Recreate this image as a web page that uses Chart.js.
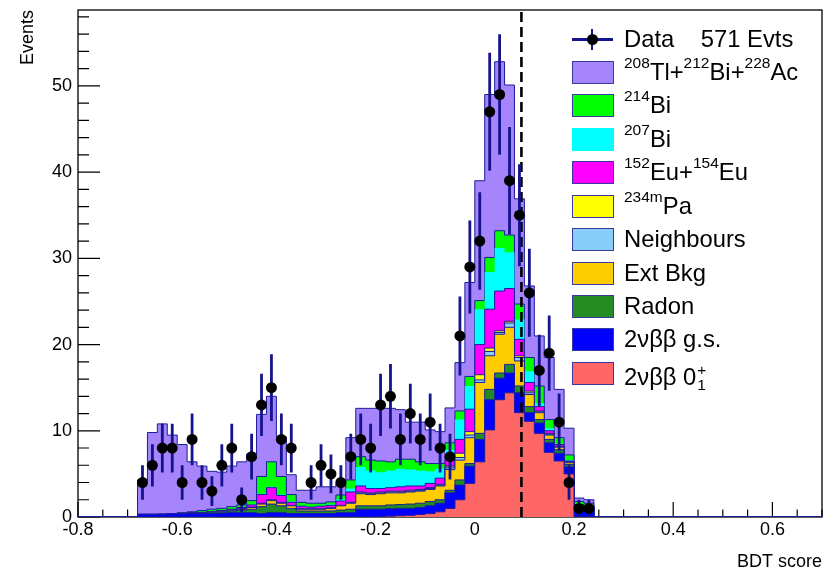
<!DOCTYPE html>
<html>
<head>
<meta charset="utf-8">
<script src="https://cdn.jsdelivr.net/npm/chart.js@4/dist/chart.umd.min.js"></script>
<style>
  html, body { margin: 0; padding: 0; background: #fff; }
  #wrap { position: relative; width: 824px; height: 569px; overflow: hidden; }
  #chart { position: absolute; left: 0; top: 0; }
  #legend { position: absolute; left: 0; top: 0; width: 824px; height: 569px; pointer-events: none;
            font-family: "Liberation Sans", Arial, sans-serif; font-size: 23.8px; line-height: 23.8px; color: #000; }
  .lab { position: absolute; left: 624px; white-space: pre; }
  .lab sup { font-size: 15.5px; line-height: 0; vertical-align: 12.5px; }
  .box { position: absolute; left: 572px; width: 39.5px; height: 21px; border: 1.5px solid #3a3a9e; }
  .ss { position: relative; display: inline-block; width: 10px; height: 24px; }
  .ss span { position: absolute; left: 1px; font-size: 15.5px; line-height: 15.5px; }
  .mk { position: absolute; background: #14148c; }
</style>
</head>
<body>
<div id="wrap">
  <canvas id="chart" width="824" height="569"></canvas>
  <div id="legend"></div>
</div>
<script>
// Binning and axis ranges
const BIN_WIDTH = 0.02;
const X_MIN = -0.8, X_MAX = 0.7;
const Y_MAX = 58.8;
const FIRST_BIN_LOW = -0.68;   // lower edge of the first filled bin
const BDT_CUT = 0.094;         // selection cut on the BDT score
const xMajorTicks = [-0.8, -0.6, -0.4, -0.2, 0, 0.2, 0.4, 0.6];
const yMajorTicks = [0, 10, 20, 30, 40, 50];

// Observed events per bin (bins of 0.02 starting at -0.68)
const dataCounts = [4,6,8,8,4,9,4,3,6,8, 2,7,13,15,9,8,0,4,6,5, 4,7,9,8,13,14,9,12,9,11,
                    8,7,21,29,32,47,49,39,35,26, 17,19,11,4,1,1];

// Expected contributions per bin, same binning
const bb2nu01 = [0,0,0,0,0,0,0,0,0,0, 0,0,0,0,0,0,0,0,0,0, 0,0,0,0,0.05,0.1,0.15,0.2,0.3,0.4,
                 0.6,1.0,2.0,3.9,6.4,10.1,13.6,14.4,12.1,11.1, 9.7,7.5,6.5,5.0,0,0];
const bb2nuGs = [0.3,0.3,0.3,0.35,0.35,0.4,0.4,0.4,0.45,0.5, 0.5,0.5,0.4,0.5,0.5,0.4,0.4,0.4,0.4,0.4,
                 0.5,0.5,0.9,0.9,0.85,0.85,0.85,0.8,0.8,0.9, 1.0,1.8,1.7,2.0,2.6,3.5,2.5,2.3,2.3,1.0,
                 1.2,1.1,0.9,0.8,1.0,0.9];
const radon = [0,0,0,0,0.05,0.05,0.1,0.15,0.15,0.2, 0.3,0.4,0.8,1.0,0.8,0.6,0.3,0.3,0.3,0.3,
               0.3,0.4,0.4,0.4,0.4,0.45,0.45,0.5,0.5,0.5, 0.4,0.3,0.6,0.3,0.7,1.2,0.6,1.0,0.8,0.7,
               0.4,0.4,0.4,0.3,0.2,0.2];
const extBkg = [0,0,0,0,0,0,0,0.05,0.1,0.1, 0.1,0.2,0.3,0.4,0.3,0.3,0.2,0.2,0.2,0.3,
                0.5,0.7,1.4,1.3,1.4,1.4,1.35,1.4,1.4,1.4, 1.6,2.4,2.3,3.0,5.9,3.9,4.5,4.3,2.9,1.4,
                0.8,0.5,0.3,0.2,0.1,0.1];
const neighbours = [0,0,0,0,0,0,0,0,0,0, 0,0,0,0,0,0,0,0,0,0,
                    0,0.05,0.1,0.1,0.1,0.1,0.1,0.1,0.1,0.1, 0.1,0.2,0.3,0.3,0.3,0.5,0.2,0.5,0.4,0.2,
                    0.1,0.1,0.05,0.05,0,0];
const pa234m = [0,0,0,0,0,0,0,0,0,0, 0.05,0.05,0.1,0.1,0.1,0.05,0.05,0.05,0.05,0.05,
                0.05,0.05,0.1,0.1,0.1,0.1,0.1,0.1,0.1,0.1, 0.1,0.2,0.5,0.4,0.6,0.4,0.2,0.2,0.2,0.2,
                0.1,0.1,0.05,0.05,0.05,0.05];
const eu152154 = [0,0,0,0,0,0,0.05,0.05,0.05,0.1, 0.15,0.25,1.0,1.4,0.8,0.35,0.3,0.2,0.3,0.3,
                  0.5,1.2,0.7,0.5,0.4,0.4,0.5,0.5,0.4,0.5, 0.7,0.7,1.6,2.6,3.5,4.5,4.6,3.8,1.9,1.0,
                  0.5,0.3,0.2,0.1,0.1,0.05];
const bi207 = [0,0,0,0,0,0,0,0,0,0, 0,0.05,0.1,0.1,0.1,0.1,0.05,0.05,0.05,0.1,
               0.2,0.4,2.2,2.1,1.9,2.0,2.1,1.9,1.8,1.4, 1.1,1.2,2.3,2.7,4.1,4.3,5.0,4.2,2.3,1.3,
               0.4,0.3,0.1,0.1,0.05,0.05];
const bi214 = [0,0,0.05,0.05,0.1,0.15,0.2,0.25,0.25,0.3, 0.3,0.45,2.0,2.9,2.1,0.8,0.4,0.4,0.3,0.3,
               0.5,1.0,1.2,1.2,1.3,1.0,1.1,1.2,1.0,0.9, 0.6,0.8,1.0,1.1,1.0,1.7,2.0,2.0,1.8,1.6,
               2.0,1.0,0.7,0.6,0.3,0.25];
const tlBiAc = [4.0,9.5,10.45,9.1,7.9,5.8,5.15,4.4,4.2,4.7, 5.0,5.4,7.2,7.6,4.6,2.3,1.4,1.5,1.9,1.75,
                1.35,4.9,5.6,6.0,6.1,6.2,5.75,4.3,4.6,3.9, 3.7,4.05,5.6,10.9,13.9,18.9,19.6,17.4,12.2,8.3,
                5.8,7.2,5.6,3.1,0.4,0.4];

const NAVY = '#1c1c9c';
const ERR_COLOR = '#14148c';
const FONT = '"Liberation Sans", Arial, sans-serif';

// Stack order, bottom to top
const components = [
  { values: bb2nu01,    color: '#ff6666', line: NAVY, label: '2\u03bd\u03b2\u03b2 0<span class="ss"><span style="top:1px">+</span><span style="top:16px">1</span></span>' },
  { values: bb2nuGs,    color: '#0000ff', line: NAVY, label: '2\u03bd\u03b2\u03b2 g.s.' },
  { values: radon,      color: '#228b22', line: NAVY, label: 'Radon' },
  { values: extBkg,     color: '#ffcc00', line: NAVY, label: 'Ext Bkg' },
  { values: neighbours, color: '#87cefa', line: NAVY, label: 'Neighbours' },
  { values: pa234m,     color: '#ffff00', line: NAVY, label: '<sup>234m</sup>Pa' },
  { values: eu152154,   color: '#ff00ff', line: NAVY, label: '<sup>152</sup>Eu+<sup>154</sup>Eu' },
  { values: bi207,      color: '#00ffff', line: null, label: '<sup>207</sup>Bi' },
  { values: bi214,      color: '#00ff00', line: NAVY, label: '<sup>214</sup>Bi' },
  { values: tlBiAc,     color: '#a584fc', line: NAVY, label: '<sup>208</sup>Tl+<sup>212</sup>Bi+<sup>228</sup>Ac' }
];

const nAll = Math.round((X_MAX - X_MIN) / BIN_WIDTH);
const offset = Math.round((FIRST_BIN_LOW - X_MIN) / BIN_WIDTH);
const edge = i => +(X_MIN + i * BIN_WIDTH).toFixed(4);
const center = i => +(FIRST_BIN_LOW + (i + 0.5) * BIN_WIDTH).toFixed(4);

function padded(arr) {
  const out = new Array(nAll).fill(0);
  arr.forEach((v, i) => { out[offset + i] = v; });
  return out;
}
function stepPoints(vals) {
  const pts = vals.map((v, i) => ({ x: edge(i), y: v }));
  pts.push({ x: X_MAX, y: vals[vals.length - 1] });
  return pts;
}

// Cumulative stack levels
let running = new Array(nAll).fill(0);
const layerDatasets = components.map(c => {
  const p = padded(c.values);
  running = running.map((v, i) => v + p[i]);
  return {
    type: 'line',
    data: stepPoints(running.slice()),
    stepped: 'before',
    fill: 'origin',
    backgroundColor: c.color,
    borderColor: c.line || 'rgba(0,0,0,0)',
    borderWidth: 1,
    pointRadius: 0,
    tension: 0
  };
});

const dots = [];
const errSegments = [];
dataCounts.forEach((n, i) => {
  if (n <= 0) return;
  const x = center(i);
  const e = Math.sqrt(n);
  dots.push({ x, y: n });
  errSegments.push({ x, y: n - e }, { x, y: n + e }, { x, y: null });
});

const frameTicks = {
  id: 'frameTicks',
  beforeDatasetsDraw(chart) {
    const { ctx, chartArea: a, scales: { x, y } } = chart;
    ctx.save();
    ctx.strokeStyle = '#000';
    ctx.lineWidth = 1.3;
    ctx.strokeRect(a.left, a.top, a.right - a.left, a.bottom - a.top);
    ctx.lineWidth = 1.2;
    ctx.beginPath();
    for (let k = 0; k <= Math.round((X_MAX - X_MIN) / 0.05); k++) {
      const v = X_MIN + k * 0.05;
      const major = Math.abs(v / 0.2 - Math.round(v / 0.2)) < 1e-6;
      const px = x.getPixelForValue(v);
      ctx.moveTo(px, a.bottom);
      ctx.lineTo(px, a.bottom - (major ? 15 : 7.5));
    }
    for (let v = 0; v <= Y_MAX; v += 2) {
      const major = v % 10 === 0;
      const py = y.getPixelForValue(v);
      ctx.moveTo(a.left, py);
      ctx.lineTo(a.left + (major ? 22 : 11), py);
    }
    ctx.stroke();
    ctx.restore();
  }
};

function noScalePadding(s) {
  s.paddingLeft = 0; s.paddingRight = 0; s.paddingTop = 0; s.paddingBottom = 0;
}

Chart.defaults.font.family = FONT;
Chart.defaults.color = '#000';

new Chart(document.getElementById('chart'), {
  type: 'line',
  data: {
    datasets: [
      { type: 'line', data: dots, showLine: false, pointRadius: 5.5, pointBackgroundColor: '#000',
        pointBorderWidth: 0, pointBorderColor: '#000' },
      { type: 'line', data: errSegments, borderColor: ERR_COLOR, borderWidth: 2.8, pointRadius: 0, spanGaps: false },
      { type: 'line', data: [{ x: BDT_CUT, y: 0 }, { x: BDT_CUT, y: Y_MAX }], borderColor: '#000',
        borderWidth: 2.6, borderDash: [10, 5], pointRadius: 0 },
      ...layerDatasets
    ]
  },
  options: {
    responsive: false,
    animation: false,
    devicePixelRatio: 1,
    layout: { autoPadding: false, padding: { left: 0, right: 2, top: 10, bottom: 0 } },
    plugins: { legend: { display: false }, tooltip: { enabled: false } },
    elements: { point: { radius: 0 }, line: { tension: 0 } },
    scales: {
      x: {
        type: 'linear', min: X_MIN, max: X_MAX,
        grid: { display: false, drawTicks: false }, border: { display: false },
        afterBuildTicks: s => { s.ticks = xMajorTicks.map(v => ({ value: v })); },
        afterFit: s => { s.height = 52; noScalePadding(s); },
        ticks: { padding: 2, autoSkip: false, maxRotation: 0, font: { size: 18 }, color: '#000',
                 callback: v => (Math.abs(v) < 1e-9 ? '0' : String(Math.round(v * 10) / 10)) },
        title: { display: true, text: 'BDT score', align: 'end', color: '#000',
                 font: { size: 18, lineHeight: 1 }, padding: { top: 0, bottom: -2 } }
      },
      y: {
        type: 'linear', min: 0, max: Y_MAX,
        grid: { display: false, drawTicks: false }, border: { display: false },
        afterBuildTicks: s => { s.ticks = yMajorTicks.map(v => ({ value: v })); },
        afterFit: s => { s.width = 78; noScalePadding(s); },
        ticks: { padding: 6, autoSkip: false, font: { size: 18 }, color: '#000' },
        title: { display: true, text: 'Events', align: 'end', color: '#000',
                 font: { size: 18, lineHeight: 1 }, padding: { top: 19.5, bottom: 0 } }
      }
    }
  },
  plugins: [frameTicks]
});

// Legend
const legend = document.getElementById('legend');
const ROW0 = 39.6, ROW_STEP = 33.42;
const totalEvents = dataCounts.reduce((s, v) => s + v, 0);
function addEl(cls, style, html) {
  const d = document.createElement('div');
  d.className = cls;
  Object.assign(d.style, style);
  if (html !== undefined) d.innerHTML = html;
  legend.appendChild(d);
}
addEl('mk', { left: '572px', top: (ROW0 - 1.25) + 'px', width: '41px', height: '2.5px' });
addEl('mk', { left: '590.8px', top: (ROW0 - 10.5) + 'px', width: '2.5px', height: '21px' });
addEl('mk', { left: '586.5px', top: (ROW0 - 5.5) + 'px', width: '11px', height: '11px', borderRadius: '50%', background: '#000' });
addEl('lab', { top: (ROW0 - 13) + 'px' });
legend.lastChild.textContent = 'Data    ' + totalEvents + ' Evts';
components.slice().reverse().forEach((c, k) => {
  const cy = ROW0 + ROW_STEP * (k + 1);
  addEl('box', { top: (cy - 12) + 'px', background: c.color, borderColor: c.line ? '#3a3a9e' : c.color });
  addEl('lab', { top: (cy - 13) + 'px' }, c.label);
});
</script>
</body>
</html>
